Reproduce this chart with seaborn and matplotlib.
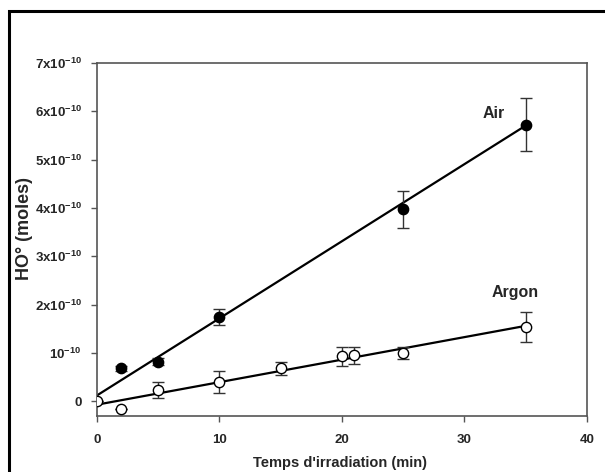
import numpy as np
import pandas as pd
import matplotlib
matplotlib.use("Agg")
import matplotlib.pyplot as plt
import seaborn as sns
from matplotlib.patches import Rectangle

# data (HO° in units of 1e-10 moles)
air_t = [2, 5, 10, 25, 35]
air_y = [0.68, 0.82, 1.74, 3.97, 5.72]
air_err = [0.05, 0.07, 0.16, 0.38, 0.55]

argon_t = [0, 2, 5, 10, 15, 20, 21, 25, 35]
argon_y = [0.0, -0.15, 0.23, 0.40, 0.68, 0.93, 0.95, 1.00, 1.54]
argon_err = [0.0, 0.0, 0.17, 0.23, 0.13, 0.19, 0.18, 0.12, 0.31]

# fitted lines
fit_t = [0, 35]
air_fit = [0.12, 5.70]
argon_fit = [-0.07, 1.56]

ytick_vals = [0, 1, 2, 3, 4, 5, 6, 7]
ytick_labels = ["0", r"10$^{-10}$"] + [f"{v}x10$^{{-10}}$" for v in ytick_vals[2:]]
xtick_vals = [0, 10, 20, 30, 40]

sns.set_style("white")
plt.rcParams["font.family"] = ["Liberation Sans", "DejaVu Sans"]
plt.rcParams["font.weight"] = "bold"
plt.rcParams["mathtext.fontset"] = "custom"
plt.rcParams["mathtext.rm"] = "Liberation Sans:bold"
plt.rcParams["mathtext.bf"] = "Liberation Sans:bold"
plt.rcParams["mathtext.default"] = "rm"

fig = plt.figure(figsize=(6.05, 4.72), dpi=100)
ax = fig.add_axes([0.160, 0.119, 0.810, 0.748])

fits = pd.DataFrame({"t": fit_t * 2, "y": air_fit + argon_fit,
                     "gaz": ["Air"] * 2 + ["Argon"] * 2})
sns.lineplot(data=fits, x="t", y="y", units="gaz", estimator=None,
             color="black", lw=1.6, ax=ax)

ax.errorbar(air_t, air_y, yerr=air_err, fmt="none", ecolor="#333333",
            elinewidth=1, capsize=4, capthick=1, zorder=3)
ax.errorbar(argon_t, argon_y, yerr=argon_err, fmt="none", ecolor="#333333",
            elinewidth=1, capsize=4, capthick=1, zorder=3)

sns.scatterplot(x=air_t, y=air_y, color="black", edgecolor="black",
                s=55, linewidth=1, zorder=4, ax=ax)
sns.scatterplot(x=argon_t, y=argon_y, color="white", edgecolor="black",
                s=55, linewidth=1, zorder=4, ax=ax)

ax.text(31.5, 5.96, "Air", fontsize=11.5, fontweight="bold", va="center")
ax.text(32.2, 2.24, "Argon", fontsize=11.5, fontweight="bold", va="center")

ax.set_xlim(0, 40)
ax.set_ylim(-0.3, 7)
ax.set_xticks(xtick_vals)
ax.set_xticklabels([str(v) for v in xtick_vals], fontsize=9.5, fontweight="bold")
ax.set_yticks(ytick_vals)
ax.set_yticklabels(ytick_labels, fontsize=9.5, fontweight="bold")
ax.tick_params(axis="both", direction="out", length=4, width=1,
               color="#555555", bottom=True, left=True)
ax.tick_params(axis="y", pad=7)
ax.tick_params(axis="x", pad=9)
for s in ax.spines.values():
    s.set_color("#555555")
    s.set_linewidth(1.2)

ax.set_xlabel("Temps d'irradiation (min)", fontsize=10.5, fontweight="bold")
ax.xaxis.set_label_coords((340 - 97) / 490, -(463 - 415.7) / 353, transform=ax.transAxes)
ax.xaxis.label.set_va("center")
ax.set_ylabel("HO° (moles)", fontsize=13, fontweight="bold")
ax.yaxis.set_label_coords(-(97 - 25) / 490, (415.7 - 228) / 353, transform=ax.transAxes)
ax.yaxis.label.set_va("center")

fig.patches.append(Rectangle((9 / 605, -0.2), 1.2, 1.2 - 11 / 472, transform=fig.transFigure,
                             fill=False, edgecolor="black", lw=2.2, clip_on=False))

fig.savefig("out.png", dpi=100)
